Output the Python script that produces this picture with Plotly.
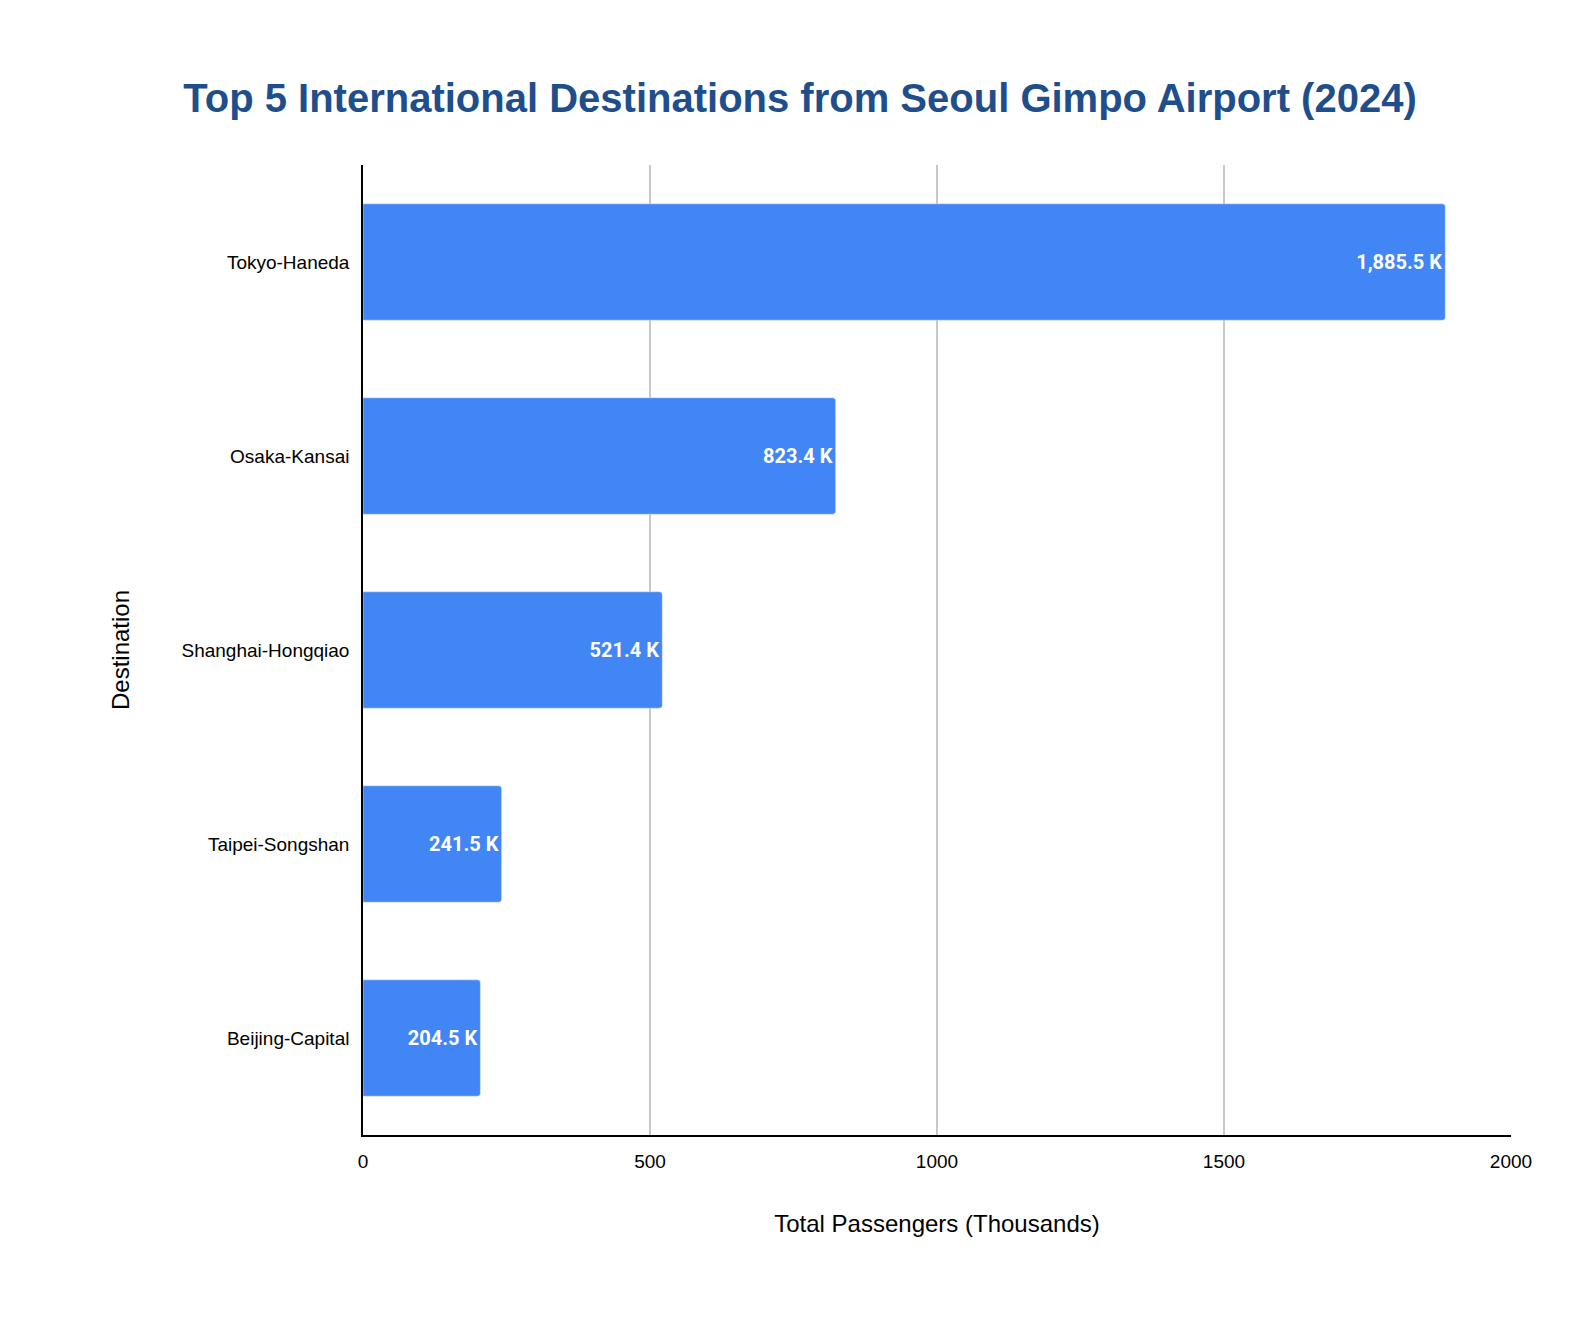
import plotly.graph_objects as go

destinations = ["Tokyo-Haneda", "Osaka-Kansai", "Shanghai-Hongqiao", "Taipei-Songshan", "Beijing-Capital"]
passengers = [1885.5, 823.4, 521.4, 241.5, 204.5]
labels = [f"{v:,.1f} K" for v in passengers]

fig = go.Figure()
fig.add_trace(go.Bar(
    y=destinations,
    x=passengers,
    orientation="h",
    width=0.6,
    marker=dict(color="#4285F4", cornerradius=3),
    text=labels,
    textposition="inside",
    insidetextanchor="end",
    textfont=dict(color="white", size=20, family="Roboto", weight="bold"),
    textangle=0,
))

fig.update_layout(
    width=1584, height=1318,
    title=dict(text="<b>Top 5 International Destinations from Seoul Gimpo Airport (2024)</b>",
               x=0.5, xanchor="center", y=0.932, yanchor="middle",
               font=dict(size=40, color="#1f4e8c", family="Liberation Sans")),
    font=dict(family="Liberation Sans", color="black"),
    plot_bgcolor="white", paper_bgcolor="white",
    margin=dict(l=355, r=81, t=157, b=191),
    showlegend=False,
    xaxis=dict(range=[0, 2000], tickvals=[0, 500, 1000, 1500, 2000],
               showgrid=True, gridcolor="#c8c8c8", gridwidth=1.5,
               showline=True, linecolor="black", linewidth=1.5, zeroline=False,
               tickfont=dict(size=19), ticks="outside", ticklen=8, tickcolor="white",
               title=dict(text="Total Passengers (Thousands)", font=dict(size=24), standoff=45)),
    yaxis=dict(autorange="reversed", showline=True, linecolor="black", linewidth=1.5,
               tickfont=dict(size=19), ticks="outside", ticklen=8, tickcolor="white",
               title=dict(text="Destination", font=dict(size=24), standoff=45)),
)

fig.write_html("out.html")
